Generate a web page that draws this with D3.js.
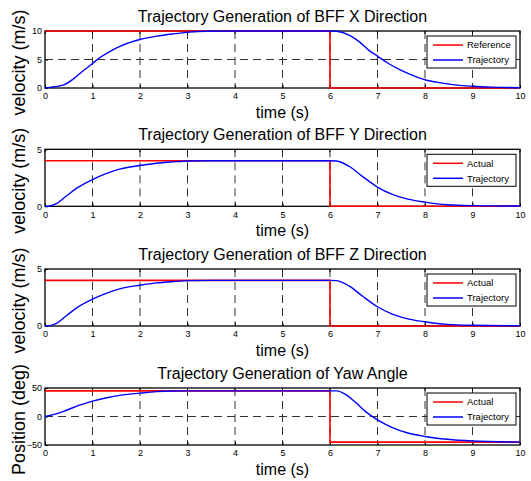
<!DOCTYPE html>
<html>
<head>
<meta charset="utf-8">
<script src="https://cdn.jsdelivr.net/npm/d3@7"></script>
<style>
  html, body { margin: 0; padding: 0; background: #fff; }
  svg { display: block; font-family: "Liberation Sans", Arial, sans-serif; }
</style>
</head>
<body>
<svg id="chart" width="531" height="481"></svg>
<script>
// ---------- DATA ----------
const titles = [
  "Trajectory Generation of BFF X Direction",
  "Trajectory Generation of BFF Y Direction",
  "Trajectory Generation of BFF Z Direction",
  "Trajectory Generation of Yaw Angle"
];
const yLabels = ["velocity (m/s)", "velocity (m/s)", "velocity (m/s)", "Position (deg)"];
const xLabel = "time (s)";
const legendNames = [
  ["Reference", "Trajectory"],
  ["Actual", "Trajectory"],
  ["Actual", "Trajectory"],
  ["Actual", "Trajectory"]
];
const xTicks = [0, 1, 2, 3, 4, 5, 6, 7, 8, 9, 10];
const yTicks = [[0, 5, 10], [0, 5], [0, 5], [-50, 0, 50]];
const yDomains = [[0, 10], [0, 5], [0, 5], [-50, 50]];

// reference / actual step signals
const refTime = [0, 6, 6, 10];
const xRef = [10, 10, 0, 0];
const yRef = [4, 4, 0, 0];
const zRef = [4, 4, 0, 0];
const yawRef = [45, 45, -45, -45];

// trajectories
const xTrajTime = [0, 0.1, 0.38, 0.6, 0.77, 1, 1.15, 1.36, 1.6, 2, 2.35, 2.7, 3.04, 3.4, 4, 5, 6, 6.14, 6.41, 6.62, 6.82, 7, 7.23, 7.5, 7.78, 8, 8.33, 8.67, 9, 9.4, 10];
const xTraj = [0, 0.1, 0.5, 1.6, 2.8, 4.3, 5.3, 6.4, 7.4, 8.5, 9.1, 9.5, 9.8, 9.95, 10, 10, 10, 9.95, 9.25, 8.1, 6.6, 5.6, 4.3, 3.1, 2.1, 1.45, 0.9, 0.5, 0.3, 0.15, 0.05];

const yzTrajTime = [0, 0.1, 0.24, 0.45, 0.66, 1, 1.3, 1.57, 2, 2.34, 2.7, 3.04, 3.5, 4, 5, 6, 6.14, 6.41, 6.68, 7, 7.3, 7.64, 8, 8.47, 9, 10];
const yTraj = [0, 0.03, 0.23, 0.9, 1.57, 2.35, 2.88, 3.26, 3.58, 3.78, 3.9, 3.98, 4, 4, 4, 4, 3.98, 3.49, 2.63, 1.69, 1.06, 0.63, 0.37, 0.14, 0.06, 0.02];
const zTraj = [0, 0.03, 0.23, 0.9, 1.57, 2.35, 2.88, 3.26, 3.58, 3.78, 3.9, 3.98, 4, 4, 4, 4, 3.98, 3.49, 2.63, 1.69, 1.06, 0.63, 0.37, 0.14, 0.06, 0.02];

const yawTrajTime = [0, 0.1, 0.45, 0.73, 1, 1.3, 1.64, 2, 2.34, 2.7, 3, 4, 5, 6, 6.14, 6.34, 6.55, 6.75, 7, 7.3, 7.64, 8, 8.47, 9, 10];
const yawTraj = [0, 1.7, 11, 20, 27, 33, 38, 41, 43.6, 44.8, 45, 45, 45, 45, 45, 38, 24, 8.5, -6, -19, -29, -35, -40, -43, -45];

const refSeries = [xRef, yRef, zRef, yawRef];
const trajSeries = [[xTrajTime, xTraj], [yzTrajTime, yTraj], [yzTrajTime, zTraj], [yawTrajTime, yawTraj]];

// ---------- LAYOUT ----------
const left = 45, right = 520;
const tops = [31, 149.3, 269, 388];
const plotH = 57;
const FONT = "'Liberation Sans', Arial, sans-serif";

const svg = d3.select("#chart");
const x = d3.scaleLinear().domain([0, 10]).range([left, right]);

tops.forEach((top, i) => {
  const bottom = top + plotH;
  const y = d3.scaleLinear().domain(yDomains[i]).range([bottom, top]);
  const g = svg.append("g");

  // grid
  const gridStyle = sel => sel.attr("stroke", "#333").attr("stroke-width", 1).attr("stroke-dasharray", "8,5");
  g.selectAll(".vg").data(xTicks.slice(1, -1)).enter().append("line")
    .attr("x1", d => x(d)).attr("x2", d => x(d)).attr("y1", top).attr("y2", bottom).call(gridStyle);
  g.selectAll(".hg").data(yTicks[i].filter(v => v > yDomains[i][0] && v < yDomains[i][1])).enter().append("line")
    .attr("x1", left).attr("x2", right).attr("y1", d => y(d)).attr("y2", d => y(d)).call(gridStyle);

  // axes (ticks inward)
  const xAxis = d3.axisBottom(x).tickValues(xTicks).tickSize(-3).tickPadding(6).tickFormat(d3.format("d"));
  const gx = g.append("g").attr("transform", `translate(0,${bottom})`).call(xAxis);
  const yAxis = d3.axisLeft(y).tickValues(yTicks[i]).tickSize(-3).tickPadding(3).tickFormat(d3.format("d"));
  const gy = g.append("g").attr("transform", `translate(${left},0)`).call(yAxis);
  [gx, gy].forEach(a => {
    a.select(".domain").remove();
    a.selectAll("text").attr("font-size", 9).attr("fill", "#000").attr("font-family", FONT);
    a.selectAll("line").attr("stroke", "#000");
  });
  gx.selectAll("text").attr("dy", "0.6em");
  // top axis ticks
  g.selectAll(".tt").data(xTicks).enter().append("line")
    .attr("x1", d => x(d)).attr("x2", d => x(d)).attr("y1", top).attr("y2", top + 3).attr("stroke", "#000");

  // box
  g.append("rect").attr("x", left).attr("y", top).attr("width", right - left).attr("height", plotH)
    .attr("fill", "none").attr("stroke", "#000").attr("stroke-width", 1.3);

  // lines
  const line = d3.line().x(d => x(d[0])).y(d => y(d[1]));
  const [tt, tv] = trajSeries[i];
  g.append("path").datum(refTime.map((t, k) => [t, refSeries[i][k]]))
    .attr("d", line).attr("fill", "none").attr("stroke", "#ff0000").attr("stroke-width", 1.6);
  g.append("path").datum(tt.map((t, k) => [t, tv[k]]))
    .attr("d", d3.line().curve(d3.curveMonotoneX).x(d => x(d[0])).y(d => y(d[1])))
    .attr("fill", "none").attr("stroke", "#0000ff").attr("stroke-width", 1.4);

  // title
  g.append("text").attr("x", (left + right) / 2).attr("y", top - 9.5).attr("text-anchor", "middle")
    .attr("font-size", 16).attr("font-family", FONT).text(titles[i]);
  // x label
  g.append("text").attr("x", (left + right) / 2).attr("y", bottom + 30).attr("text-anchor", "middle")
    .attr("font-size", 16).attr("font-family", FONT).text(xLabel);
  // y label
  g.append("text").attr("transform", `translate(25,${(top + bottom) / 2 + 3}) rotate(-90)`)
    .attr("text-anchor", "middle").attr("font-size", 18).attr("font-family", FONT).text(yLabels[i]);

  // legend
  const lx = 427, ly = top + 5, lw = 89, lh = 32;
  const lg = g.append("g");
  lg.append("rect").attr("x", lx).attr("y", ly).attr("width", lw).attr("height", lh)
    .attr("fill", "#fff").attr("stroke", "#000").attr("stroke-width", 1);
  const colors = ["#ff0000", "#0000ff"];
  legendNames[i].forEach((name, k) => {
    const yy = ly + 9 + k * 15;
    lg.append("line").attr("x1", lx + 6).attr("x2", lx + 36).attr("y1", yy).attr("y2", yy)
      .attr("stroke", colors[k]).attr("stroke-width", 1.5);
    lg.append("text").attr("x", lx + 40).attr("y", yy).attr("dy", "0.35em")
      .attr("font-size", 9.5).attr("font-family", FONT).text(name);
  });
});
</script>
</body>
</html>
